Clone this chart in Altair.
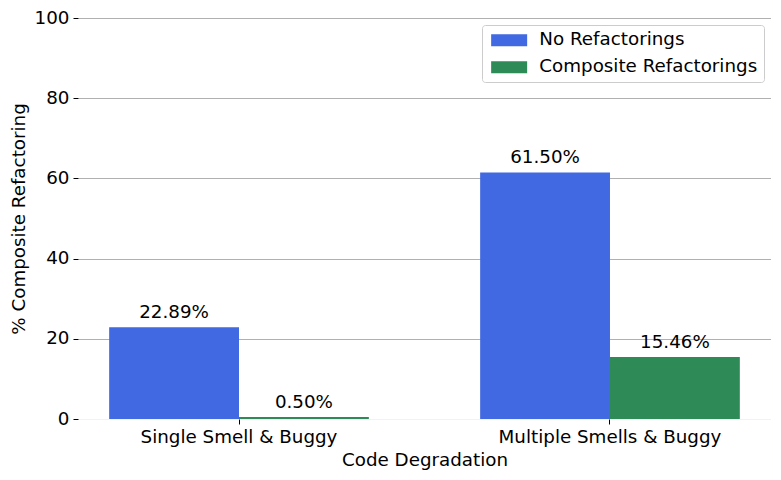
import altair as alt
import pandas as pd

categories = ["Single Smell & Buggy", "Multiple Smells & Buggy"]
series = ["No Refactorings", "Composite Refactorings"]
no_refactorings = [22.89, 61.50]
composite_refactorings = [0.50, 15.46]
colors = ["#4169E1", "#2E8B57"]

rows = []
for i, c in enumerate(categories):
    rows.append({"cat": c, "series": series[0], "value": no_refactorings[i]})
    rows.append({"cat": c, "series": series[1], "value": composite_refactorings[i]})
df = pd.DataFrame(rows)
df["label"] = df["value"].map(lambda v: f"{v:.2f}%")

FONT = "DejaVu Sans"
FS = 18.3

x_enc = alt.X("cat:N", sort=categories, title="Code Degradation",
              scale=alt.Scale(paddingInner=0.3, paddingOuter=0.084),
              axis=alt.Axis(labelAngle=0, domain=False, tickColor="black", tickSize=5,
                            labelPadding=4, titlePadding=6, grid=False, labelLimit=500,
                            labelFontSize=FS, titleFontSize=FS, labelColor="black",
                            titleColor="black", titleFontWeight="normal",
                            labelFont=FONT, titleFont=FONT))
xo_enc = alt.XOffset("series:N", sort=series,
                     scale=alt.Scale(paddingInner=0, paddingOuter=0))
y_enc = alt.Y("value:Q", title="% Composite Refactoring",
              scale=alt.Scale(domain=[0, 100], nice=False),
              axis=alt.Axis(values=[0, 20, 40, 60, 80, 100], domain=False,
                            tickColor="black", tickSize=5, labelPadding=4,
                            titlePadding=6,
                            gridColor={"condition": {"test": "datum.value === 0", "value": "#f2f2f2"}, "value": "#b0b0b0"},
                            gridWidth=1,
                            labelFontSize=FS, titleFontSize=FS, labelColor="black",
                            titleColor="black", titleFontWeight="normal",
                            labelFont=FONT, titleFont=FONT))

bars = alt.Chart(df).mark_bar().encode(
    x=x_enc, xOffset=xo_enc, y=y_enc,
    color=alt.Color("series:N", sort=series,
                    scale=alt.Scale(domain=series, range=colors),
                    legend=alt.Legend(title=None, orient="none", legendX=404, legendY=7,
                                      symbolType="M-1,-1H5V1H-1Z", symbolSize=144,
                                      symbolStrokeWidth=0, labelOffset=33,
                                      labelFontSize=FS, labelFont=FONT, labelColor="black",
                                      rowPadding=8, padding=6, fillColor="white",
                                      strokeColor="#cccccc", cornerRadius=3,
                                      labelLimit=400)),
)

texts = alt.Chart(df).mark_text(baseline="bottom", dy=-5, fontSize=FS, font=FONT,
                                color="black").encode(
    x=alt.X("cat:N", sort=categories), xOffset=xo_enc,
    y=alt.Y("value:Q"), text="label:N")

chart = alt.layer(bars, texts).properties(
    width=693, height=401,
    autosize=alt.AutoSizeParams(type="none"),
    padding={"left": 70, "top": 10, "right": 0, "bottom": 53},
).configure_view(stroke=None)

chart.save("out.html", embed_options={"renderer": "svg", "actions": False})
